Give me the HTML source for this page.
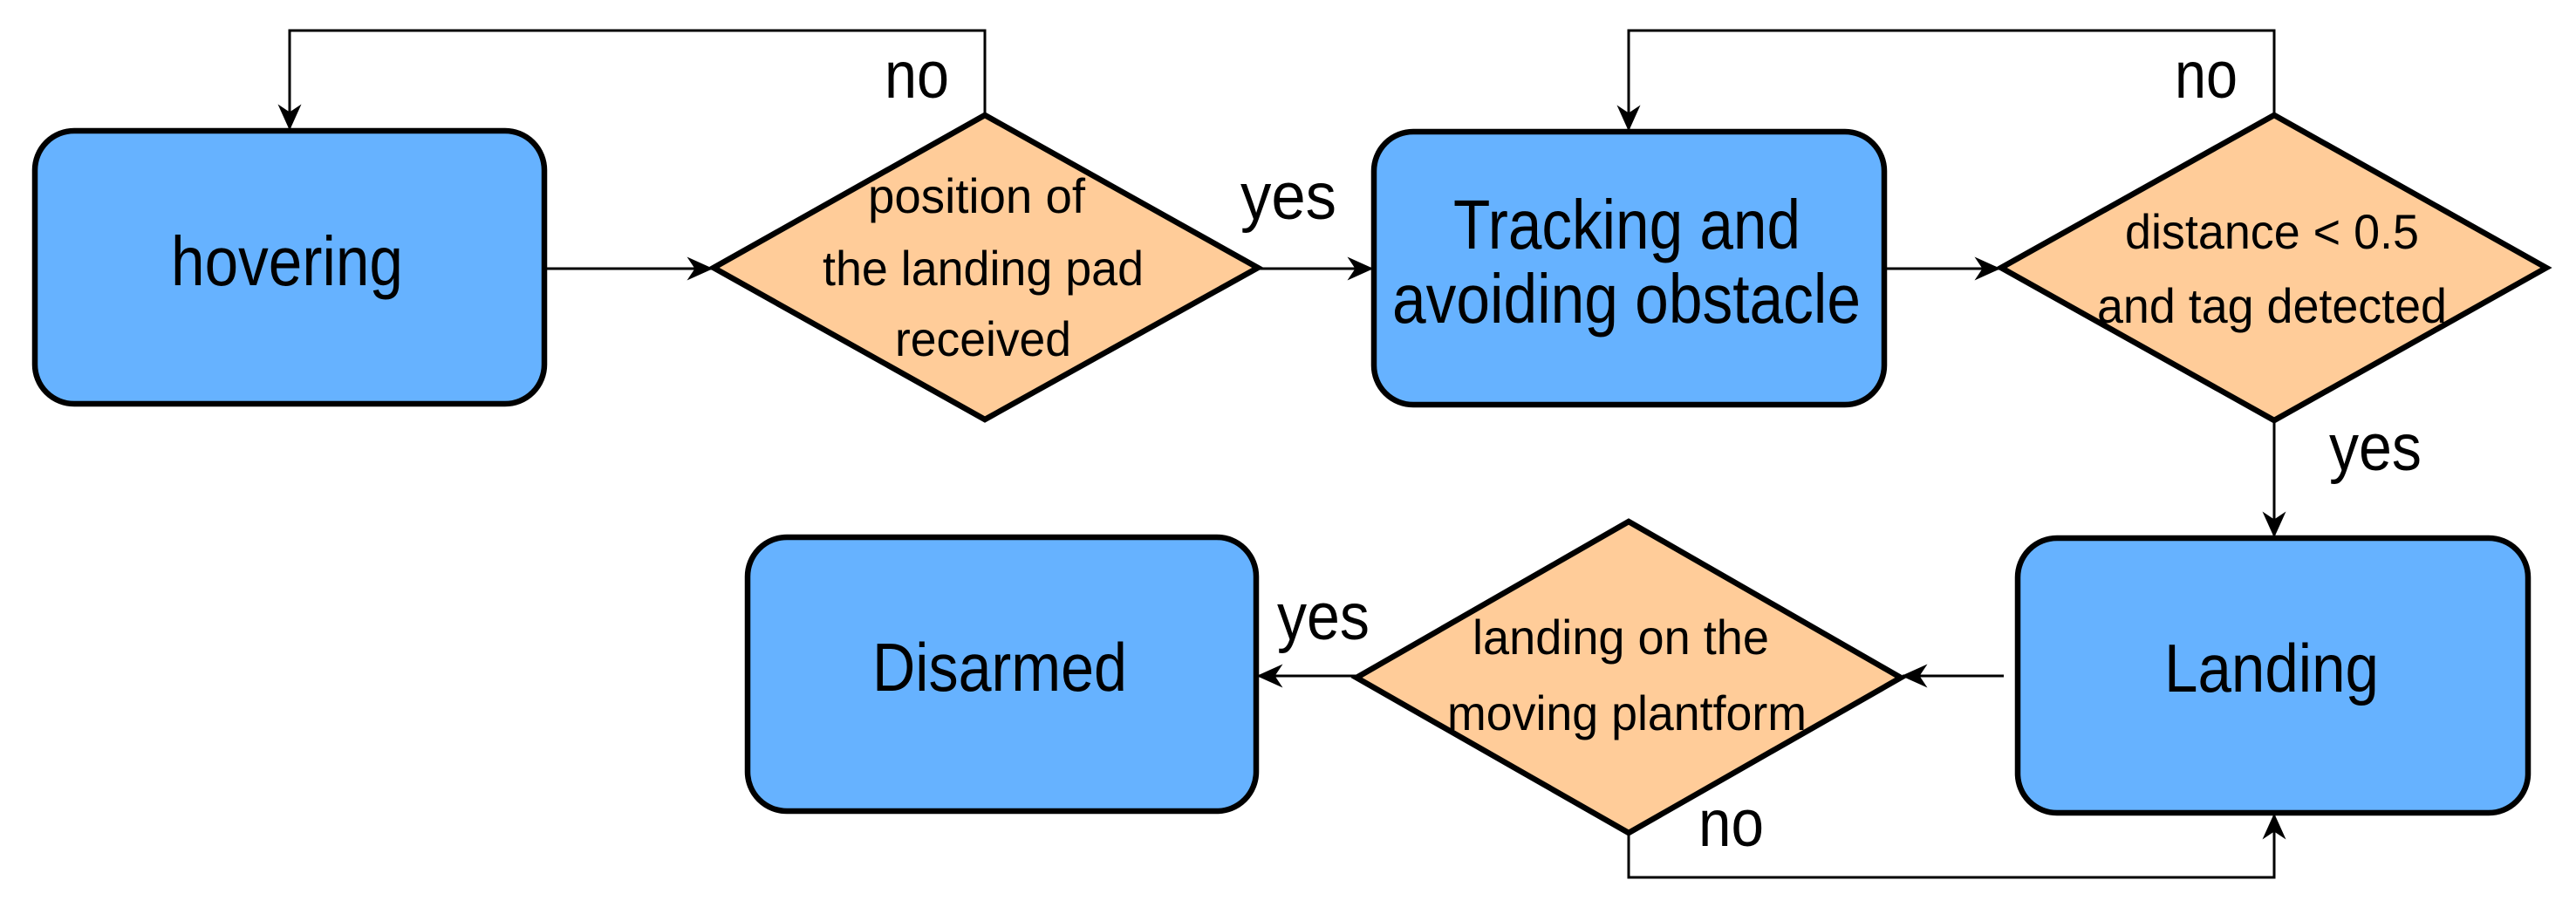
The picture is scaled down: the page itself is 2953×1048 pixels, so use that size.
<!DOCTYPE html>
<html><head><meta charset="utf-8"><style>html,body{margin:0;padding:0;background:#fff;overflow:hidden}svg{display:block}</style></head>
<body>
<svg width="2953" height="1048" viewBox="0 0 2953 1048" xmlns="http://www.w3.org/2000/svg" font-family="Liberation Sans, Arial, sans-serif">
<defs>
<marker id="a" viewBox="0 0 20 20" refX="19" refY="10" markerWidth="30" markerHeight="30" markerUnits="userSpaceOnUse" orient="auto" overflow="visible">
<path d="M0,1 L20,10 L0,19 L6,10 Z" fill="#000"/>
</marker>
</defs>
<g stroke="#000" stroke-width="3" fill="none" marker-end="url(#a)">
<path d="M1129,132 V35 H332 V148"/>
<path d="M624,308 H816"/>
<path d="M1442,308 H1573"/>
<path d="M2607,132 V35 H1867 V149"/>
<path d="M2162,308 H2292"/>
<path d="M2607,482 V615"/>
<path d="M2297,775 H2181"/>
<path d="M1555,775 H1442"/>
<path d="M1867,955 V1006 H2607 V934"/>
</g>
<g stroke="#000" stroke-width="6.5">
<rect x="40" y="150" width="584" height="313" rx="45" fill="#66b2ff"/>
<rect x="1575" y="151" width="585" height="313" rx="45" fill="#66b2ff"/>
<rect x="857" y="616" width="583" height="314" rx="45" fill="#66b2ff"/>
<rect x="2313" y="617" width="585" height="315" rx="45" fill="#66b2ff"/>
<polygon points="818,307 1129,132 1442,307 1129,481" fill="#ffcc99"/>
<polygon points="2294,307 2607,132 2919,307 2607,482" fill="#ffcc99"/>
<polygon points="1555,777 1867,598 2179,777 1867,955" fill="#ffcc99"/>
</g>
<g fill="#000">
<text x="196" y="327" font-size="80" textLength="266" lengthAdjust="spacingAndGlyphs">hovering</text>
<text x="1666" y="285" font-size="80" textLength="398" lengthAdjust="spacingAndGlyphs">Tracking and</text>
<text x="1596" y="370" font-size="80" textLength="537" lengthAdjust="spacingAndGlyphs">avoiding obstacle</text>
<text x="1000" y="792" font-size="78" textLength="292" lengthAdjust="spacingAndGlyphs">Disarmed</text>
<text x="2481" y="793" font-size="78" textLength="246" lengthAdjust="spacingAndGlyphs">Landing</text>
<text x="995" y="244" font-size="56" textLength="249" lengthAdjust="spacingAndGlyphs">position of</text>
<text x="943" y="327" font-size="56" textLength="368" lengthAdjust="spacingAndGlyphs">the landing pad</text>
<text x="1026" y="408" font-size="56" textLength="202" lengthAdjust="spacingAndGlyphs">received</text>
<text x="2436" y="285" font-size="56" textLength="337" lengthAdjust="spacingAndGlyphs">distance &lt; 0.5</text>
<text x="2404" y="370" font-size="56" textLength="401" lengthAdjust="spacingAndGlyphs">and tag detected</text>
<text x="1688" y="750" font-size="56" textLength="340" lengthAdjust="spacingAndGlyphs">landing on the</text>
<text x="1659" y="837" font-size="56" textLength="412" lengthAdjust="spacingAndGlyphs">moving plantform</text>
<text x="1014" y="112" font-size="76" textLength="74" lengthAdjust="spacingAndGlyphs">no</text>
<text x="2493" y="112" font-size="76" textLength="72" lengthAdjust="spacingAndGlyphs">no</text>
<text x="1947" y="970" font-size="76" textLength="75" lengthAdjust="spacingAndGlyphs">no</text>
<text x="1422" y="251" font-size="76" textLength="110" lengthAdjust="spacingAndGlyphs">yes</text>
<text x="2670" y="539" font-size="76" textLength="106" lengthAdjust="spacingAndGlyphs">yes</text>
<text x="1464" y="733" font-size="76" textLength="106" lengthAdjust="spacingAndGlyphs">yes</text>
</g>
</svg>
</body></html>
